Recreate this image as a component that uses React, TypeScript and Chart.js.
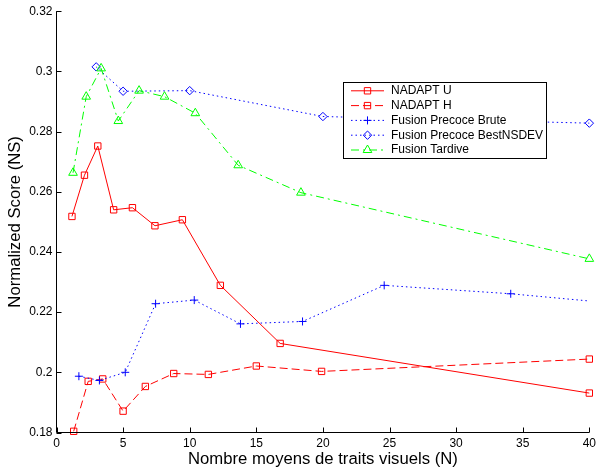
import React, { useEffect, useRef } from 'react';
import { Chart, registerables } from 'chart.js';

Chart.register(...registerables);

// ---------- data ----------
const xTicks = [0, 5, 10, 15, 20, 25, 30, 35, 40];
const yTicks = [0.18, 0.2, 0.22, 0.24, 0.26, 0.28, 0.3, 0.32];

const seriesNames = [
  'NADAPT U',
  'NADAPT H',
  'Fusion Precoce Brute',
  'Fusion Precoce BestNSDEV',
  'Fusion Tardive',
];

const nadaptUX = [1.16, 2.1, 3.1, 4.29, 5.7, 7.39, 9.45, 12.3, 16.79, 40];
const nadaptUY = [0.2518, 0.2655, 0.2752, 0.254, 0.2547, 0.2487, 0.2507, 0.2289, 0.2096, 0.1931];

const nadaptHX = [1.29, 2.38, 3.47, 5.0, 6.67, 8.8, 11.4, 15.0, 19.9, 40];
const nadaptHY = [0.1804, 0.197, 0.1978, 0.1871, 0.1953, 0.1996, 0.1993, 0.2021, 0.2003, 0.2044];

const bruteX = [1.68, 3.22, 5.16, 7.44, 10.34, 13.81, 18.47, 24.6, 34.1, 40];
const bruteY = [0.1987, 0.1973, 0.2, 0.2228, 0.224, 0.2161, 0.2169, 0.2289, 0.2261, 0.2237];

const bestX = [2.98, 5.0, 10.0, 20.0, 40.0];
const bestY = [0.3015, 0.2934, 0.2936, 0.285, 0.2828];

const tardiveX = [1.24, 2.23, 3.35, 4.64, 6.2, 8.11, 10.42, 13.64, 18.35, 40];
const tardiveY = [0.2663, 0.2916, 0.301, 0.2835, 0.2936, 0.2916, 0.2861, 0.2688, 0.2597, 0.2377];

const xTitle = 'Nombre moyens de traits visuels (N)';
const yTitle = 'Normalized Score (NS)';

// ---------- styles ----------
const FONT = "'Liberation Sans', Arial, Helvetica, sans-serif";
const RED = '#ff0000';
const BLUE = '#0000ff';
const GREEN = '#00ff00';

const seriesStyles = [
  { color: RED, dash: [] as number[], point: 'rect', r: 4.5 },
  { color: RED, dash: [8, 4], point: 'rect', r: 4.5 },
  { color: BLUE, dash: [1.5, 3], point: 'cross', r: 4 },
  { color: BLUE, dash: [1.5, 3], point: 'rectRot', r: 4.2 },
  { color: GREEN, dash: [8, 4, 2, 4], point: 'triangle', r: 5 },
];

function pts(xs: number[], ys: number[]) {
  return xs.map((x, i) => ({ x, y: ys[i] }));
}

const seriesData = [
  pts(nadaptUX, nadaptUY),
  pts(nadaptHX, nadaptHY),
  pts(bruteX, bruteY),
  pts(bestX, bestY),
  pts(tardiveX, tardiveY),
];

function drawMarker(ctx: CanvasRenderingContext2D, style: string, x: number, y: number, r: number) {
  ctx.beginPath();
  if (style === 'rect') {
    const s = Math.SQRT1_2 * r;
    ctx.rect(x - s, y - s, 2 * s, 2 * s);
  } else if (style === 'cross') {
    ctx.moveTo(x - r, y);
    ctx.lineTo(x + r, y);
    ctx.moveTo(x, y - r);
    ctx.lineTo(x, y + r);
  } else if (style === 'rectRot') {
    ctx.moveTo(x - r, y);
    ctx.lineTo(x, y - r);
    ctx.lineTo(x + r, y);
    ctx.lineTo(x, y + r);
    ctx.closePath();
  } else if (style === 'triangle') {
    let a = 0;
    ctx.moveTo(x + Math.sin(a) * r, y - Math.cos(a) * r);
    a += (2 * Math.PI) / 3;
    ctx.lineTo(x + Math.sin(a) * r, y - Math.cos(a) * r);
    a += (2 * Math.PI) / 3;
    ctx.lineTo(x + Math.sin(a) * r, y - Math.cos(a) * r);
    ctx.closePath();
  }
  ctx.stroke();
}

const matlabPlugin = {
  id: 'matlabAxes',
  afterDraw(chart: any) {
    const ctx: CanvasRenderingContext2D = chart.ctx;
    const { left, right, top, bottom } = chart.chartArea;
    const xs = chart.scales.x;
    const ys = chart.scales.y;
    ctx.save();
    ctx.strokeStyle = '#000';
    ctx.lineWidth = 1;
    ctx.setLineDash([]);
    ctx.beginPath();
    ctx.moveTo(left, top);
    ctx.lineTo(left, bottom);
    ctx.lineTo(right, bottom);
    ctx.stroke();
    ctx.beginPath();
    xTicks.forEach((v) => {
      const px = Math.round(xs.getPixelForValue(v)) + 0.5;
      ctx.moveTo(px, bottom);
      ctx.lineTo(px, bottom - 5);
    });
    yTicks.forEach((v) => {
      const py = Math.round(ys.getPixelForValue(v)) + 0.5;
      ctx.moveTo(left, py);
      ctx.lineTo(left + 5, py);
    });
    ctx.stroke();

    // legend
    const bx = 343.5, by = 82.5, bw = 203, bh = 76;
    ctx.fillStyle = '#fff';
    ctx.fillRect(bx, by, bw, bh);
    ctx.strokeStyle = '#000';
    ctx.lineWidth = 1;
    ctx.strokeRect(bx, by, bw, bh);
    ctx.font = `12px ${FONT}`;
    ctx.textBaseline = 'middle';
    ctx.textAlign = 'left';
    seriesNames.forEach((name, i) => {
      const st = seriesStyles[i];
      const y = 90.8 + i * 14.8;
      ctx.strokeStyle = st.color;
      ctx.lineWidth = 1;
      ctx.setLineDash(st.dash);
      ctx.beginPath();
      ctx.moveTo(351, y);
      ctx.lineTo(384, y);
      ctx.stroke();
      ctx.setLineDash([]);
      drawMarker(ctx, st.point, 367.5, y, st.r);
      ctx.fillStyle = '#000';
      ctx.fillText(name, 391, y);
    });
    ctx.restore();
  },
};

export default function App() {
  const ref = useRef<HTMLCanvasElement>(null);

  useEffect(() => {
    if (!ref.current) return;
    const datasets = seriesNames.map((name, i) => {
      const st = seriesStyles[i];
      const radii = seriesData[i].map((_, j) =>
        i === 2 && j === seriesData[i].length - 1 ? 0 : st.r
      );
      return {
        label: name,
        data: seriesData[i],
        borderColor: st.color,
        borderWidth: 1,
        borderDash: st.dash,
        pointStyle: st.point,
        pointRadius: radii,
        pointBorderColor: st.color,
        pointBackgroundColor: 'rgba(0,0,0,0)',
        pointBorderWidth: 1,
        fill: false,
        tension: 0,
        clip: false,
        order: 4 - i,
      };
    });

    const chart = new Chart(ref.current, {
      type: 'line',
      data: { datasets } as any,
      options: {
        responsive: false,
        animation: false,
        events: [],
        layout: { padding: { top: 8.5, right: 5.5, left: 0, bottom: 0 } },
        plugins: {
          legend: { display: false },
          tooltip: { enabled: false },
        },
        scales: {
          x: {
            type: 'linear',
            min: 0,
            max: 40,
            afterFit: (s: any) => {
              s.height = 38.5;
            },
            afterBuildTicks: (a: any) => {
              a.ticks = xTicks.map((v) => ({ value: v }));
            },
            grid: { display: false, drawTicks: false },
            border: { display: false },
            ticks: {
              padding: 4,
              color: '#000',
              font: { family: FONT, size: 12 },
              maxRotation: 0,
              autoSkip: false,
              callback: (v: any) => String(v),
            },
            title: {
              display: true,
              text: xTitle,
              color: '#000',
              font: { family: FONT, size: 16.7 },
              padding: 1.5,
            },
          },
          y: {
            type: 'linear',
            min: 0.18,
            max: 0.32,
            afterFit: (s: any) => {
              s.width = 56.5;
            },
            afterBuildTicks: (a: any) => {
              a.ticks = yTicks.map((v) => ({ value: v }));
            },
            grid: { display: false, drawTicks: false },
            border: { display: false },
            ticks: {
              padding: 4,
              color: '#000',
              font: { family: FONT, size: 12 },
              autoSkip: false,
              callback: (v: any) => String(parseFloat(Number(v).toFixed(2))),
            },
            title: {
              display: true,
              text: yTitle,
              color: '#000',
              font: { family: FONT, size: 16.7 },
              padding: 5.5,
            },
          },
        },
      } as any,
      plugins: [matlabPlugin],
    });
    return () => chart.destroy();
  }, []);

  return (
    <div style={{ position: 'absolute', left: 0, top: 0, width: 600, height: 471, background: '#fff' }}>
      <canvas ref={ref} width={600} height={471} style={{ display: 'block', width: 600, height: 471 }} />
    </div>
  );
}
